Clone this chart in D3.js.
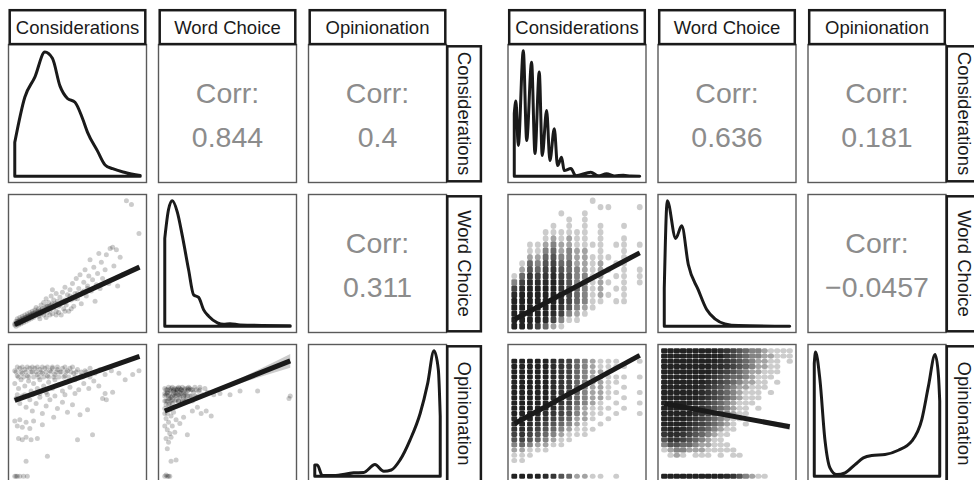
<!DOCTYPE html>
<html>
<head>
<meta charset="utf-8">
<script src="https://cdn.jsdelivr.net/npm/d3@7"></script>
<style>
  html, body { margin: 0; padding: 0; background: #fff; overflow: hidden; }
  svg { display: block; }
</style>
</head>
<body>
<svg id="chart" width="974" height="480"></svg>
<script>
// ---- variables and correlations -------------------------------------------
const varNames = ["Considerations", "Word Choice", "Opinionation"];
// correlations in pair order (1,2), (1,3), (2,3)
const corrLeft  = [0.844, 0.4, 0.311];
const corrRight = [0.636, 0.181, -0.0457];

// ---- kernel densities (position within range, relative density) -----------
const densConsL = [[0,0.27],[0.08,0.63],[0.16,0.79],[0.24,0.99],[0.3,0.94],[0.36,0.72],[0.42,0.62],
  [0.48,0.59],[0.54,0.46],[0.58,0.35],[0.66,0.2],[0.72,0.09],[0.78,0.06],[0.88,0.03],[1,0.005]];
const densWCL = [[0,0.7],[0.03,0.93],[0.06,1.0],[0.1,0.91],[0.14,0.72],[0.19,0.45],[0.23,0.25],
  [0.27,0.23],[0.31,0.13],[0.35,0.08],[0.42,0.027],[0.47,0.015],[0.52,0.02],[0.6,0.01],[1,0.004]];
const densOpL = [[0,0.09],[0.02,0.09],[0.06,0.005],[0.15,0.005],[0.31,0.027],[0.39,0.03],[0.48,0.093],
  [0.55,0.04],[0.61,0.05],[0.68,0.13],[0.76,0.29],[0.84,0.5],[0.9,0.74],[0.95,1.0],[0.985,0.85],[1,0.48]];
const densConsR = [[0,0.5],[0.013,0.6],[0.032,0.245],[0.072,1.0],[0.099,0.285],[0.138,0.909],
  [0.165,0.181],[0.199,0.83],[0.223,0.165],[0.258,0.524],[0.284,0.125],[0.319,0.379],[0.345,0.085],
  [0.377,0.151],[0.398,0.045],[0.451,0.061],[0.49,0.004],[0.61,0.032],[0.67,0.003],[0.736,0.019],
  [0.8,0.002],[0.869,0.008],[0.93,0.001],[1,0]];
const densWCR = [[0,0.3],[0.024,1.0],[0.091,0.7],[0.139,0.8],[0.192,0.49],[0.271,0.29],[0.338,0.133],
  [0.404,0.059],[0.484,0.019],[0.59,0.005],[1,0]];
const densOpR = [[0,0.9],[0.01,0.99],[0.045,0.77],[0.085,0.29],[0.125,0.067],[0.179,0.013],[0.245,0.027],
  [0.325,0.093],[0.391,0.146],[0.458,0.165],[0.564,0.173],[0.67,0.207],[0.777,0.279],[0.857,0.452],
  [0.91,0.718],[0.963,0.97],[0.99,0.8],[1,0.6]];

// ---- scatter points, left set (position within range) ----------------------
const wcByConsL = [
  [0.00,0.02],[0.01,0.00],[0.01,0.04],[0.02,0.02],[0.02,0.06],[0.03,0.01],[0.03,0.04],[0.04,0.03],
  [0.04,0.07],[0.05,0.02],[0.05,0.05],[0.06,0.04],[0.06,0.08],[0.07,0.03],[0.07,0.06],[0.08,0.05],
  [0.08,0.09],[0.09,0.04],[0.09,0.07],[0.10,0.06],[0.10,0.10],[0.11,0.05],[0.11,0.08],[0.12,0.07],
  [0.12,0.11],[0.13,0.06],[0.13,0.09],[0.14,0.08],[0.14,0.12],[0.15,0.07],[0.15,0.10],
  [0.16,0.13],[0.17,0.09],[0.17,0.15],[0.18,0.11],[0.19,0.08],[0.19,0.14],[0.20,0.12],[0.21,0.17],
  [0.21,0.10],[0.22,0.14],[0.23,0.19],[0.23,0.09],[0.24,0.13],[0.25,0.16],[0.25,0.22],[0.26,0.11],
  [0.27,0.15],[0.27,0.19],[0.28,0.13],[0.29,0.24],[0.29,0.17],[0.30,0.10],[0.31,0.15],[0.31,0.21],
  [0.32,0.18],[0.33,0.26],[0.33,0.12],[0.34,0.20],[0.35,0.16],[0.36,0.23],[0.37,0.09],[0.37,0.19],
  [0.38,0.27],[0.39,0.14],[0.40,0.21],[0.40,0.31],[0.30,0.29],[0.41,0.17],[0.42,0.25],[0.43,0.12],
  [0.44,0.29],[0.45,0.21],[0.46,0.34],[0.47,0.16],[0.48,0.26],[0.49,0.38],[0.50,0.22],[0.51,0.30],
  [0.52,0.41],[0.53,0.18],[0.54,0.27],[0.55,0.35],[0.56,0.45],[0.57,0.24],[0.58,0.32],[0.59,0.40],
  [0.60,0.53],[0.61,0.28],[0.62,0.37],[0.63,0.47],[0.64,0.20],[0.65,0.33],[0.66,0.42],[0.67,0.58],
  [0.68,0.30],[0.69,0.51],[0.70,0.38],[0.72,0.45],[0.73,0.57],[0.75,0.34],[0.76,0.62],[0.78,0.63],
  [0.79,0.48],[0.81,0.61],[0.82,0.32],[0.84,0.55],[0.86,0.41],[0.89,1.00],[0.93,0.97],[0.99,0.74],
  [0.00,0.01],[0.01,0.02],[0.02,0.04],[0.03,0.02],[0.04,0.05],[0.05,0.03],[0.06,0.06],[0.07,0.05],
  [0.08,0.07],[0.09,0.06],[0.10,0.08],[0.11,0.07],[0.12,0.09],[0.13,0.08],[0.14,0.10],[0.15,0.09],
  [0.16,0.11],[0.17,0.10],[0.18,0.12],[0.19,0.11],[0.20,0.10],[0.21,0.13],[0.22,0.12],[0.23,0.11],
  [0.24,0.15],[0.25,0.13],[0.26,0.16],[0.27,0.14],[0.28,0.16],[0.29,0.14],[0.30,0.18],[0.32,0.16],
  [0.34,0.18],[0.36,0.17],[0.38,0.20],[0.40,0.19],[0.42,0.21],[0.44,0.24],[0.46,0.23],[0.48,0.22],
  [0.50,0.26],[0.52,0.25],[0.55,0.28],[0.58,0.30],[0.20,0.06],[0.25,0.07],[0.28,0.09],[0.33,0.09],
  [0.35,0.11],[0.40,0.12],[0.45,0.14]
];
const opByConsL = [
  [0.00,0.84],[0.02,0.80],[0.04,0.86],[0.06,0.82],[0.08,0.85],[0.10,0.80],[0.12,0.86],[0.14,0.83],
  [0.16,0.86],[0.18,0.81],[0.20,0.85],[0.22,0.82],[0.24,0.86],[0.26,0.80],[0.28,0.84],[0.30,0.86],
  [0.32,0.81],[0.34,0.85],[0.36,0.83],[0.38,0.86],[0.40,0.80],[0.42,0.84],[0.44,0.86],[0.47,0.82],
  [0.50,0.85],[0.53,0.80],[0.56,0.84],[0.60,0.86],[0.64,0.82],[0.68,0.85],[0.72,0.81],[0.77,0.84],
  [0.83,0.82],[0.88,0.77],[0.94,0.81],[0.99,0.84],
  [0.00,0.74],[0.03,0.70],[0.05,0.77],[0.08,0.72],[0.11,0.76],[0.13,0.68],[0.15,0.74],[0.18,0.70],
  [0.20,0.77],[0.23,0.72],[0.25,0.67],[0.27,0.75],[0.30,0.70],[0.32,0.77],[0.35,0.73],[0.38,0.68],
  [0.41,0.75],[0.44,0.71],[0.48,0.77],[0.51,0.69],[0.55,0.74],[0.59,0.70],[0.63,0.76],[0.67,0.72],
  [0.72,0.66],[0.78,0.67],
  [0.01,0.62],[0.04,0.58],[0.06,0.64],[0.09,0.55],[0.12,0.61],[0.14,0.52],[0.17,0.58],[0.20,0.63],
  [0.22,0.50],[0.25,0.56],[0.28,0.61],[0.31,0.47],[0.34,0.54],[0.38,0.59],[0.42,0.51],[0.46,0.57],
  [0.52,0.49],[0.58,0.53],[0.70,0.62],[0.73,0.61],
  [0.00,0.44],[0.02,0.40],[0.04,0.45],[0.06,0.39],[0.09,0.43],[0.12,0.38],[0.15,0.44],[0.22,0.41],
  [0.03,0.30],[0.06,0.29],[0.09,0.31],[0.13,0.29],[0.18,0.30],[0.50,0.29],[0.62,0.33],[0.26,0.16],
  [0.09,0.12],[0.00,0.00],[0.01,0.00],[0.02,0.00],[0.04,0.00],[0.07,0.00],[0.10,0.00],
  [0.01,0.83],[0.05,0.83],[0.09,0.83],[0.13,0.83],[0.17,0.83],[0.21,0.83],[0.25,0.83],[0.29,0.83],
  [0.33,0.83],[0.37,0.83],[0.41,0.83],[0.45,0.83],[0.49,0.83],[0.53,0.83],[0.57,0.83],
  [0.03,0.79],[0.07,0.79],[0.11,0.79],[0.15,0.79],[0.19,0.79],[0.23,0.79],[0.27,0.79],[0.31,0.79],
  [0.35,0.79],[0.39,0.79],[0.43,0.79],[0.48,0.79],[0.54,0.79],[0.60,0.79],
  [0.02,0.87],[0.06,0.87],[0.10,0.87],[0.14,0.87],[0.18,0.87],[0.22,0.87],[0.26,0.87],[0.30,0.87],
  [0.34,0.87],[0.40,0.87],[0.46,0.87],
  [0.02,0.65],[0.08,0.65],[0.14,0.65],[0.20,0.66],[0.26,0.65],[0.32,0.64],[0.40,0.65],[0.48,0.66]
];
const opByWCL = [
  [0.00,0.70],[0.02,0.66],[0.03,0.71],[0.04,0.62],[0.05,0.68],[0.06,0.58],[0.07,0.65],[0.08,0.70],
  [0.09,0.61],[0.10,0.67],[0.11,0.71],[0.12,0.63],[0.13,0.69],[0.14,0.59],[0.15,0.66],[0.16,0.70],
  [0.17,0.62],[0.18,0.68],[0.19,0.71],[0.20,0.64],[0.21,0.69],[0.22,0.60],[0.23,0.67],[0.24,0.71],
  [0.25,0.63],[0.27,0.68],[0.28,0.71],[0.30,0.65],[0.32,0.70],[0.34,0.67],[0.01,0.60],[0.03,0.57],
  [0.05,0.63],[0.07,0.55],[0.09,0.69],[0.11,0.60],[0.13,0.66],[0.02,0.69],[0.04,0.66],[0.06,0.71],
  [0.08,0.64],[0.10,0.70],[0.12,0.67],[0.14,0.71],[0.16,0.65],[0.18,0.70],
  [0.00,0.54],[0.02,0.50],[0.04,0.53],[0.01,0.46],[0.03,0.43],[0.05,0.48],[0.07,0.51],[0.09,0.45],
  [0.00,0.40],[0.02,0.37],[0.04,0.34],[0.06,0.40],[0.01,0.30],[0.03,0.27],[0.05,0.31],[0.08,0.35],
  [0.12,0.42],[0.15,0.47],[0.18,0.33],[0.02,0.22],[0.05,0.12],[0.09,0.13],[0.00,0.00],[0.02,0.00],
  [0.04,0.00],
  [0.29,0.50],[0.33,0.52],[0.37,0.48],[0.39,0.65],[0.44,0.66],[0.52,0.65],[0.60,0.68],[0.74,0.68],
  [0.99,0.62],[1.00,0.64],[0.26,0.55],[0.22,0.52],
  [0.01,0.69],[0.04,0.69],[0.07,0.69],[0.10,0.69],[0.13,0.69],[0.16,0.69],[0.19,0.69],[0.22,0.69],
  [0.25,0.69],[0.28,0.69],[0.00,0.64],[0.03,0.64],[0.06,0.64],[0.09,0.64],[0.12,0.64],[0.15,0.64],
  [0.18,0.64],[0.21,0.64],[0.24,0.64],[0.27,0.64],[0.02,0.60],[0.05,0.60],[0.08,0.60],[0.11,0.60],
  [0.14,0.60],[0.17,0.60],[0.20,0.60],[0.00,0.66],[0.01,0.57],[0.00,0.50],[0.01,0.01],[0.03,0.00],
  [0.02,0.67],[0.05,0.70],[0.08,0.67],[0.11,0.65],[0.14,0.68],[0.17,0.66],[0.20,0.70],[0.03,0.62],
  [0.06,0.61],[0.09,0.66],[0.12,0.70],[0.15,0.62],[0.00,0.60],[0.01,0.65],[0.04,0.58],[0.07,0.68]
];

// ---- scatter tallies, right set ---------------------------------------------
// Considerations takes 17 levels, Opinionation 25 levels, Word Choice is binned in 21 steps.
// Each string holds point counts per bin, one digit per bin, lowest bin first.
const consLevelsR = 16, opLevelsR = 24, wcBinsR = 20;
const wcByConsR = [
  "999998631000000000000", "999999864210000000000", "899999987542110000000",
  "699999986432110000000", "489999987654321100000", "268999998765432110000",
  "136788776543221100100", "013566655443322111000", "012344433322211100000",
  "001233333222211111100", "000111111111010000001", "000012222221111110010",
  "000001010101000000010", "000010101010010000000", "000011111111111010000",
  "000000000000000000000", "000000011100010000010"
];
const opByConsR = [
  "9001123567889999999999900", "9001124678999999999999900", "9000113567899999999999900",
  "9000012456789999999999900", "8000012345678999999999900", "7000001234567888888888800",
  "5000001123456677777777700", "4000000112345566666666600", "2000000011223344444444400",
  "2000000011122233333333300", "1000000001011122222222200", "1000000000101112222221100",
  "0000000000010101111111100", "1000000000001010101101100", "0000000000000101010101000",
  "0000000000000000000000000", "0000000000001010100100100"
];
const wcByOpR = [
  "999999999987532110000", "000000000000000000000", "000000000000000000000",
  "000000000000000000000", "012101110101100000000", "123322211111000000000",
  "355443221110000000000", "577654321100000000000", "788765432110000000000",
  "899876543211000000000", "999987654321010000000", "999987654321100000000",
  "999998765432110000000", "999998765432110100000", "999998765432111000000",
  "999999876543211100000", "999999876543211101000", "999999876543221110000",
  "999999987654322110100", "999999987654432111000", "999999998765432211100",
  "999999998876543221100", "999999999876543221101", "999999999976543322111",
  "999999999876543321111"
];

// ---- linear fits: [intercept, slope], x span, and error band half-widths ---
const fitsLeft = [
  {row: 1, col: 0, coef: [0.014, 0.46], span: [0, 0.994], band: [[0, 0.006], [0.5, 0.003], [0.994, 0.01]]},
  {row: 2, col: 0, coef: [0.604, 0.353], span: [0, 0.994], band: [[0, 0.008], [0.5, 0.004], [0.994, 0.015]]},
  {row: 2, col: 1, coef: [0.52, 0.40], span: [0, 1], band: [[0, 0.01], [0.3, 0.006], [1, 0.055]]}
];
const fitsRight = [
  {row: 1, col: 0, coef: [0.053, 0.532], span: [0, 1], band: [[0, 0.005], [0.5, 0.004], [1, 0.012]]},
  {row: 2, col: 0, coef: [0.418, 0.545], span: [0, 1], band: [[0, 0.006], [0.5, 0.004], [1, 0.015]]},
  {row: 2, col: 1, coef: [0.58, -0.186], span: [0, 1], band: [[0, 0.008], [0.5, 0.005], [1, 0.025]]}
];

// ---- layout ------------------------------------------------------------------
const PANEL = 138, STEP = 150, TOP = 44.5, STRIP_TOP = 9, STRIP_W = 36;
const FONT = "'Liberation Sans', Arial, Helvetica, sans-serif";
const INK = "#1a1a1a", FRAME = "#5a5a5a", CORR_INK = "#8c8c8c";
const PT_ALPHA = 0.2;

const svg = d3.select("#chart");
const defs = svg.append("defs");

// both matrices share the same panel arrangement
const matrices = [
  {
    id: "L", x0: 8.5, corr: corrLeft,
    dens: [densConsL, densWCL, densOpL],
    fits: fitsLeft,
    points: {"1,0": wcByConsL, "2,0": opByConsL, "2,1": opByWCL}
  },
  {
    id: "R", x0: 508, corr: corrRight,
    dens: [densConsR, densWCR, densOpR],
    fits: fitsRight,
    tallies: {
      "1,0": {cols: wcByConsR, xSteps: consLevelsR, ySteps: wcBinsR, byCol: true, w: 5.8, h: 6.3},
      "2,0": {cols: opByConsR, xSteps: consLevelsR, ySteps: opLevelsR, byCol: true, w: 5.8, h: 5.0},
      "2,1": {cols: wcByOpR, xSteps: wcBinsR, ySteps: opLevelsR, byCol: false, w: 6.3, h: 5.0}
    }
  }
];

// position within range, with ggplot's 5% expansion on each side
const EXP = [-0.05, 1.05];
const fmtCorr = v => String(v).replace("-", "\u2212");
const pairIndex = (r, c) => (r === 0 ? c - 1 : 2); // (0,1)->0, (0,2)->1, (1,2)->2

matrices.forEach(m => {
  const gM = svg.append("g");
  for (let r = 0; r < 3; r++) {
    for (let c = 0; c < 3; c++) {
      const px = m.x0 + c * STEP, py = TOP + r * STEP;
      const sx = d3.scaleLinear().domain(EXP).range([px, px + PANEL]);
      const sy = d3.scaleLinear().domain(EXP).range([py + PANEL, py]);
      const clipId = `clip-${m.id}-${r}-${c}`;
      defs.append("clipPath").attr("id", clipId)
        .append("rect").attr("x", px).attr("y", py).attr("width", PANEL).attr("height", PANEL);
      const g = gM.append("g");
      const inner = g.append("g").attr("clip-path", `url(#${clipId})`);

      if (r === c) {
        const area = d3.area()
          .x(d => sx(d[0])).y0(sy(0)).y1(d => sy(d[1]))
          .curve(d3.curveMonotoneX);
        inner.append("path").attr("d", area(m.dens[r]))
          .attr("fill", "none").attr("stroke", INK)
          .attr("stroke-width", 3).attr("stroke-linejoin", "round");
      } else if (r < c) {
        const cx = px + PANEL / 2, cy = py + PANEL / 2;
        const t = g.append("text").attr("text-anchor", "middle")
          .attr("font-family", FONT).attr("font-size", 28.5).attr("fill", CORR_INK);
        t.append("tspan").attr("x", cx).attr("y", cy - 10.5).text("Corr:");
        t.append("tspan").attr("x", cx).attr("y", cy + 33)
          .text(fmtCorr(m.corr[pairIndex(r, c)]));
      } else {
        const key = `${r},${c}`;
        if (m.points) {
          inner.selectAll("circle.pt").data(m.points[key]).join("circle")
            .attr("class", "pt")
            .attr("cx", d => sx(d[0])).attr("cy", d => sy(d[1]))
            .attr("r", 2.5).attr("fill", "#000").attr("fill-opacity", PT_ALPHA);
        }
        if (m.tallies) {
          // stacked points at one spot: each count darkens like overlapping translucent dots
          const tl = m.tallies[key];
          const cells = [];
          tl.cols.forEach((s, a) => {
            Array.from(s, Number).forEach((n, b) => {
              if (n > 0) {
                const xi = tl.byCol ? a : b, yi = tl.byCol ? b : a;
                cells.push({x: xi / tl.xSteps, y: yi / tl.ySteps, n});
              }
            });
          });
          // sparse cells read as single round dots, crowded cells merge into streaks
          inner.selectAll("rect.cell").data(cells).join("rect")
            .attr("class", "cell")
            .attr("x", d => sx(d.x) - tl.w / 2).attr("y", d => sy(d.y) - tl.h / 2)
            .attr("width", tl.w).attr("height", tl.h)
            .attr("rx", d => d.n <= 2 ? Math.min(tl.w, tl.h) / 2 : 1.3)
            .attr("fill", "#000")
            .attr("fill-opacity", d => 1 - Math.pow(1 - PT_ALPHA, d.n));
        }
        const fit = m.fits.find(f => f.row === r && f.col === c);
        const yhat = x => fit.coef[0] + fit.coef[1] * x;
        const band = d3.area()
          .x(d => sx(d[0])).y0(d => sy(yhat(d[0]) - d[1])).y1(d => sy(yhat(d[0]) + d[1]))
          .curve(d3.curveMonotoneX);
        inner.append("path").attr("d", band(fit.band))
          .attr("fill", "#999").attr("fill-opacity", 0.5);
        inner.append("line")
          .attr("x1", sx(fit.span[0])).attr("y1", sy(yhat(fit.span[0])))
          .attr("x2", sx(fit.span[1])).attr("y2", sy(yhat(fit.span[1])))
          .attr("stroke", INK).attr("stroke-width", 5);
      }

      // panel frame
      g.append("rect").attr("x", px).attr("y", py)
        .attr("width", PANEL).attr("height", PANEL)
        .attr("fill", "none").attr("stroke", FRAME).attr("stroke-width", 1.4);
    }
  }

  // column strips along the top
  for (let c = 0; c < 3; c++) {
    const px = m.x0 + c * STEP;
    gM.append("rect").attr("x", px + 1.2).attr("y", STRIP_TOP + 1.2)
      .attr("width", PANEL - 2.4).attr("height", TOP - STRIP_TOP - 1.6)
      .attr("fill", "#fff").attr("stroke", INK).attr("stroke-width", 2.5);
    gM.append("text").attr("x", px + PANEL / 2).attr("y", STRIP_TOP + 24.5)
      .attr("text-anchor", "middle").attr("font-family", FONT)
      .attr("font-size", 18.5).attr("fill", INK).text(varNames[c]);
  }
  // row strips down the right side
  const sxR = m.x0 + 2 * STEP + PANEL;
  for (let r = 0; r < 3; r++) {
    const py = TOP + r * STEP;
    gM.append("rect").attr("x", sxR + 0.8).attr("y", py + 1.8)
      .attr("width", STRIP_W - 2.4).attr("height", PANEL - 3)
      .attr("fill", "#fff").attr("stroke", INK).attr("stroke-width", 2.5);
    gM.append("text")
      .attr("transform", `translate(${sxR + STRIP_W / 2},${py + PANEL / 2}) rotate(90)`)
      .attr("y", 6.5).attr("text-anchor", "middle").attr("font-family", FONT)
      .attr("font-size", 18.5).attr("fill", INK).text(varNames[r]);
  }
});
</script>
</body>
</html>
